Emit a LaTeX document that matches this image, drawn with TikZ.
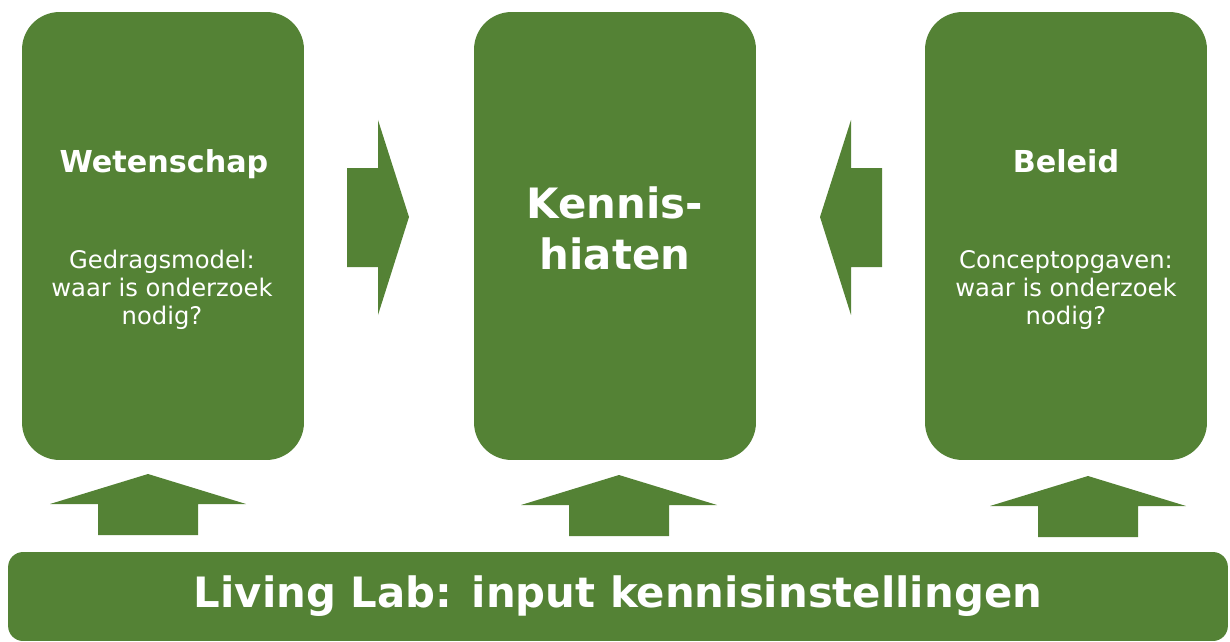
\documentclass[tikz,border=0pt]{standalone}
\usepackage{fontspec}
\setmainfont{DejaVu Sans}
\usetikzlibrary{positioning}
\definecolor{leaf}{RGB}{84,130,53}
\tikzset{
    % Define style for the three columns
    kolom/.style={
           rectangle,
           rounded corners=0.75cm,
           fill=leaf,
           minimum width=5.64cm,
           minimum height=8.96cm},
    % Define style for the bar at the bottom
    balk/.style={
           rectangle,
           rounded corners=0.3cm,
           fill=leaf,
           minimum width=24.4cm,
           minimum height=1.78cm},
    % Define text styles (anchored at the baseline of the last line)
    kop/.style={text=white, anchor=base, inner sep=0pt,
           font=\fontsize{17.2}{20}\selectfont\bfseries},
    tekst/.style={text=white, anchor=base, inner sep=0pt, align=center,
           font=\fontsize{13.8}{15.9}\selectfont},
    groot/.style={text=white, anchor=base, inner sep=0pt, align=center,
           font=\fontsize{23.8}{28.5}\selectfont\bfseries},
    % Define block arrows (tip at the origin)
    pijlop/.pic={
           \fill[leaf] (0,0) -- (98,30) -- (50,30) -- (50,61)
                -- (-50,61) -- (-50,30) -- (-98,30) -- cycle;},
    pijlzij/.pic={
           \fill[leaf] (0,0) -- (-31,-97) -- (-31,-49) -- (-62,-49)
                -- (-62,50) -- (-31,50) -- (-31,98) -- cycle;}
}

\begin{document}
\begin{tikzpicture}[x=0.02cm,y=-0.02cm]
  \useasboundingbox (0,0) rectangle (1230,642);

  % columns
  \node[kolom] (wet) at (163,236) {};
  \node[kolom] (hiaat) at (615,236) {};
  \node[kolom] (beleid) at (1066,236) {};
  \node[balk] (lab) at (618,596.5) {};

  \node[kop] (wettitel) at (164,173) {Wetenschap};
  \node[tekst] (wettekst) at (162,324) {Gedragsmodel:\\waar is onderzoek\\nodig?};
  \node[groot] (hiaattitel) at (615,269) {Kennis-\\hiaten};
  \node[kop] (beleidtitel) at (1066,173) {Beleid};
  \node[tekst] (beleidtekst) at (1066,324) {Conceptopgaven:\\waar is onderzoek\\nodig?};
  \node[groot] (labtitel) at (618,607) {Living Lab: input kennisinstellingen};

  % arrows into the middle column
  \pic at (409,217) {pijlzij};
  \pic[xscale=-1] at (820,217) {pijlzij};

  % arrows from the living lab
  \pic at (148,474) {pijlop};
  \pic at (619,475) {pijlop};
  \pic at (1088,476) {pijlop};
\end{tikzpicture}
\end{document}
